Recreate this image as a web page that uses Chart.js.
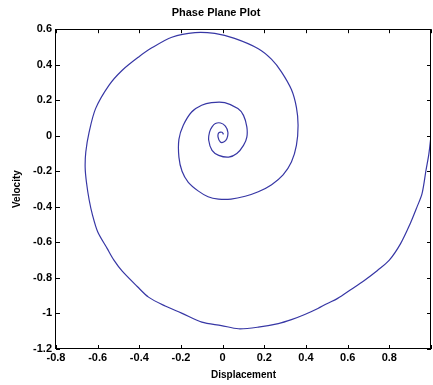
<!DOCTYPE html>
<html>
<head>
<meta charset="utf-8">
<script src="https://cdn.jsdelivr.net/npm/chart.js@4/dist/chart.umd.min.js"></script>
<style>
  html, body { margin: 0; padding: 0; background: #fff; }
  canvas { display: block; }
</style>
</head>
<body>
<canvas id="phaseChart" width="433" height="385"></canvas>
<script>
// trajectory of the damped oscillator: displacement vs velocity
const displacement = [
  1.0, 0.99, 0.976, 0.957, 0.933, 0.90, 0.854, 0.80, 0.743, 0.68, 0.616, 0.552, 0.50, 0.457,
  0.394, 0.33, 0.267, 0.171, 0.076, -0.006, -0.10, -0.197, -0.276, -0.356, -0.41, -0.482,
  -0.522, -0.554, -0.60, -0.625, -0.641, -0.654, -0.66, -0.657, -0.641, -0.61, -0.546, -0.482,
  -0.403, -0.34, -0.244, -0.133, -0.038, 0.057, 0.171, 0.235, 0.282, 0.33, 0.354, 0.362,
  0.354, 0.33, 0.29, 0.235, 0.171, 0.108, 0.04, -0.02, -0.07, -0.118, -0.165, -0.195, -0.21, -0.21,
  -0.189, -0.149, -0.101, -0.054, 0.01, 0.073, 0.10, 0.116, 0.116, 0.10, 0.068, 0.029, -0.019,
  -0.051, -0.067, -0.063, -0.051, -0.035, -0.01, 0.013, 0.025, 0.02, 0.005, -0.011, -0.022,
  -0.019, -0.003, 0.004
];
const velocity = [
  0.0, -0.1, -0.194, -0.326, -0.40, -0.495, -0.607, -0.70, -0.758, -0.814, -0.865, -0.915, -0.945, -0.972,
  -1.006, -1.035, -1.057, -1.077, -1.086, -1.068, -1.049, -0.998, -0.958, -0.908, -0.848, -0.762,
  -0.7, -0.635, -0.54, -0.445, -0.36, -0.26, -0.18, -0.091, 0.021, 0.153, 0.284, 0.369,
  0.444, 0.495, 0.555, 0.581, 0.576, 0.548, 0.49, 0.43, 0.36, 0.26, 0.16, 0.059,
  -0.054, -0.148, -0.22, -0.275, -0.315, -0.34, -0.356, -0.356, -0.343, -0.31, -0.262, -0.2, -0.12, -0.02,
  0.059, 0.134, 0.172, 0.187, 0.187, 0.153, 0.115, 0.05, -0.007, -0.054, -0.10, -0.12, -0.11,
  -0.082, -0.025, 0.021, 0.05, 0.069, 0.072, 0.054, 0.02, -0.017, -0.035, -0.035, -0.007,
  0.016, 0.02, 0.008
];

const xTicks = [-0.8, -0.6, -0.4, -0.2, 0, 0.2, 0.4, 0.6, 0.8, 1];
const yTicks = [-1.2, -1, -0.8, -0.6, -0.4, -0.2, 0, 0.2, 0.4, 0.6];

const points = displacement.map((d, i) => ({ x: d, y: velocity[i] }));

const fmt = v => {
  if (Math.abs(v) < 1e-9) return '0';
  return String(+v.toFixed(1));
};

// matlab style box with inward ticks on all four sides
const boxTicks = {
  id: 'boxTicks',
  afterDraw(chart) {
    const { ctx, chartArea: a, scales: { x, y } } = chart;
    const len = 4;
    ctx.save();
    ctx.strokeStyle = '#000';
    ctx.lineWidth = 1;
    ctx.beginPath();
    xTicks.forEach(v => {
      const px = Math.round(x.getPixelForValue(v)) + 0.5;
      ctx.moveTo(px, a.bottom); ctx.lineTo(px, a.bottom - len);
      ctx.moveTo(px, a.top); ctx.lineTo(px, a.top + len);
    });
    yTicks.forEach(v => {
      const py = Math.round(y.getPixelForValue(v)) + 0.5;
      ctx.moveTo(a.left, py); ctx.lineTo(a.left + len, py);
      ctx.moveTo(a.right, py); ctx.lineTo(a.right - len, py);
    });
    ctx.stroke();
    ctx.strokeRect(Math.round(a.left) - 0.5, Math.round(a.top) + 0.5,
      Math.round(a.right - a.left), Math.round(a.bottom - a.top) - 1);
    ctx.restore();
  }
};

const ctx = document.getElementById('phaseChart').getContext('2d');
new Chart(ctx, {
  type: 'scatter',
  data: {
    datasets: [{
      data: points,
      showLine: true,
      borderColor: 'rgb(55, 55, 165)',
      borderWidth: 1.2,
      tension: 0.3,
      pointRadius: 0,
      fill: false
    }]
  },
  options: {
    responsive: false,
    animation: false,
    layout: { padding: { left: 0, right: 1, top: 0, bottom: 0 } },
    plugins: {
      legend: { display: false },
      tooltip: { enabled: false },
      title: {
        display: true,
        text: 'Phase Plane Plot',
        color: '#000',
        font: { family: "'Liberation Sans', Arial, sans-serif", size: 11, weight: 'bold' },
        padding: { top: 6, bottom: 10 }
      }
    },
    scales: {
      x: {
        type: 'linear',
        min: -0.8,
        max: 1,
        afterBuildTicks: s => { s.ticks = xTicks.map(v => ({ value: v })); },
        afterFit: s => { s.height = 36; },
        grid: { display: false, drawTicks: false },
        border: { display: false },
        ticks: {
          padding: 2,
          color: '#000',
          maxRotation: 0,
          autoSkip: false,
          font: { family: "'Liberation Sans', Arial, sans-serif", size: 11, weight: 'bold' },
          callback: v => (v >= 0.99 ? '' : fmt(v))
        },
        title: {
          display: true,
          text: 'Displacement',
          color: '#000',
          font: { family: "'Liberation Sans', Arial, sans-serif", size: 10, weight: 'bold' },
          padding: { top: 0, bottom: 4 }
        }
      },
      y: {
        type: 'linear',
        min: -1.2,
        max: 0.6,
        afterBuildTicks: s => { s.ticks = yTicks.map(v => ({ value: v })); },
        afterFit: s => { s.width = 56; },
        grid: { display: false, drawTicks: false },
        border: { display: false },
        ticks: {
          padding: 4,
          color: '#000',
          autoSkip: false,
          font: { family: "'Liberation Sans', Arial, sans-serif", size: 11, weight: 'bold' },
          callback: v => fmt(v)
        },
        title: {
          display: true,
          text: 'Velocity',
          color: '#000',
          font: { family: "'Liberation Sans', Arial, sans-serif", size: 10, weight: 'bold' },
          padding: { top: 11, bottom: 0 }
        }
      }
    }
  },
  plugins: [boxTicks]
});
</script>
</body>
</html>
